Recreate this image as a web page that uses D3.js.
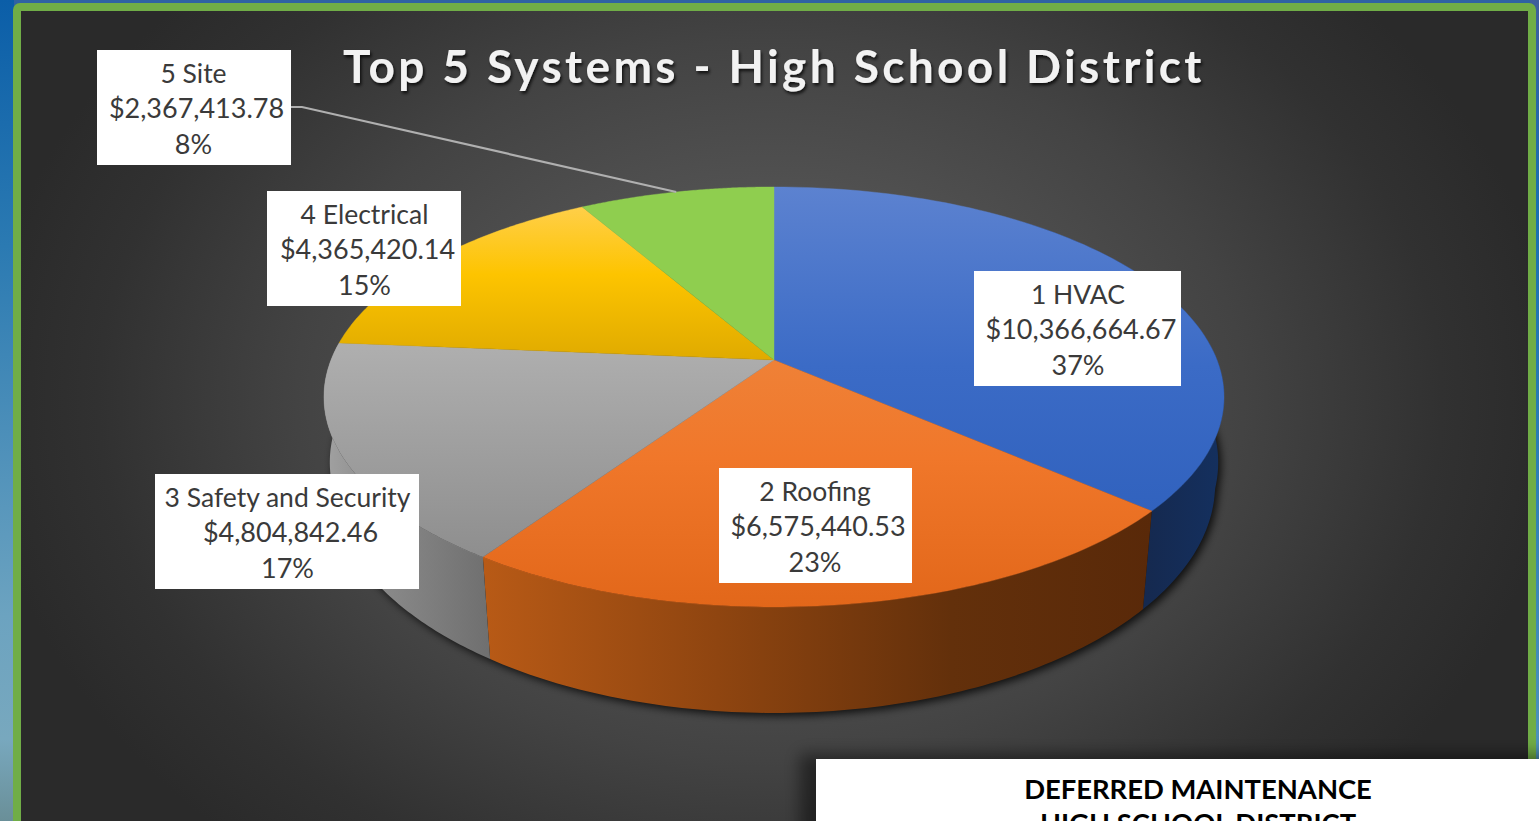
<!DOCTYPE html>
<html><head><meta charset="utf-8">
<script src="https://cdn.jsdelivr.net/npm/d3@7/dist/d3.min.js"></script>
<style>html,body{margin:0;padding:0;background:#fff;overflow:hidden}svg{display:block}</style>
</head><body>
<script>
const title = "Top 5 Systems - High School District";
const systems = ["1 HVAC","2 Roofing","3 Safety and Security","4 Electrical","5 Site"];
const costs = [10366664.67,6575440.53,4804842.46,4365420.14,2367413.78];
const costLabels = ["$10,366,664.67","$6,575,440.53","$4,804,842.46","$4,365,420.14","$2,367,413.78"];
const percents = ["37%","23%","17%","15%","8%"];
const footerLines = ["DEFERRED MAINTENANCE","HIGH SCHOOL DISTRICT"];

const W=1539,H=821;
const svg=d3.select("body").append("svg").attr("width",W).attr("height",H).attr("viewBox",`0 0 ${W} ${H}`);
const defs=svg.append("defs");
function linGrad(id,stops,horizontal,a,b){
  const g=defs.append("linearGradient").attr("id",id).attr("gradientUnits","userSpaceOnUse");
  if(horizontal) g.attr("x1",a).attr("x2",b).attr("y1",0).attr("y2",0);
  else g.attr("x1",0).attr("x2",0).attr("y1",a).attr("y2",b);
  stops.forEach(s=>g.append("stop").attr("offset",s[0]).attr("stop-color",s[1]));
}
linGrad("leftStrip",[[0,"#0b5ea8"],[.3,"#2b7ab2"],[.75,"#6ca3c0"],[.9,"#78a8be"],[1,"#6a8f98"]],false,0,821);
linGrad("rightStrip",[[0,"#3f5f9c"],[.12,"#2a66a8"],[.25,"#1a6fb0"],[.6,"#2f7fb5"],[.92,"#4f93bb"]],false,0,821);
const bg=defs.append("radialGradient").attr("id","bg").attr("gradientUnits","userSpaceOnUse")
  .attr("cx",0).attr("cy",0).attr("r",1).attr("gradientTransform","translate(770 400) scale(790 600)");
[[0,"#5c5c5c"],[.35,"#515151"],[.6,"#434343"],[.85,"#313131"],[1,"#2a2a2a"]].forEach(s=>bg.append("stop").attr("offset",s[0]).attr("stop-color",s[1]));

linGrad("top0",[[0,"#5c82d0"],[.55,"#3b6bc6"],[1,"#3162be"]],false,187,512);
linGrad("top1",[[0,"#ef8137"],[.4,"#f0772a"],[1,"#e2671a"]],false,360,607);
linGrad("top2",[[0,"#afafaf"],[1,"#8e8e8e"]],false,343,558);
linGrad("top3",[[0,"#ffcf4a"],[.45,"#fdc400"],[1,"#e0ab00"]],false,206,358);
linGrad("top4",[[0,"#8fce4f"],[1,"#8fce4f"]],false,187,360);
linGrad("side0",[[0,"#15294f"],[1,"#14305f"]],true,1144,1224);
linGrad("side1",[[0,"#b85a16"],[.35,"#8f4510"],[.7,"#63300b"],[1,"#592909"]],true,483,1153);
linGrad("side2",[[0,"#a2a2a2"],[.3,"#8c8c8c"],[1,"#6f6f6f"]],true,324,490);
["side3","side4"].forEach(id=>linGrad(id,[[0,"#555"],[1,"#555"]],true,0,1));

const blur=(id,sd)=>defs.append("filter").attr("id",id).attr("x","-20%").attr("y","-20%").attr("width","140%").attr("height","140%")
  .append("feGaussianBlur").attr("stdDeviation",sd);
blur("shadow",4.5); blur("boxShadow",8);
const ts=defs.append("filter").attr("id","titleShadow").attr("x","-5%").attr("y","-30%").attr("width","110%").attr("height","170%");
ts.append("feDropShadow").attr("dx",1.5).attr("dy",2.5).attr("stdDeviation",1.8).attr("flood-color","#000").attr("flood-opacity",.75);

// page frame
svg.append("rect").attr("width",14).attr("height",H).attr("fill","url(#leftStrip)");
svg.append("rect").attr("x",14).attr("width",W-14).attr("height",10).attr("fill","#2f62a3");
svg.append("rect").attr("x",1530).attr("width",9).attr("height",H).attr("fill","url(#rightStrip)");
svg.append("rect").attr("x",17).attr("y",7).attr("width",1515).attr("height",H).attr("rx",3)
  .attr("fill","url(#bg)").attr("stroke","#70ad47").attr("stroke-width",8);

// 3D pie: circle coordinates (u,v) pass through a perspective divide, then d3 scales
const persp=0.176;
const xTop=d3.scaleLinear().domain([-1,1]).range([774-443,774+443]);
const yTop=d3.scaleLinear().domain([-1,1]).range([360-203.5,360+203.5]);
const xOffset=d3.scaleLinear().domain([340,400,560]).range([1.01,.98,.975]).clamp(true);
const yBottom=d3.scaleLinear().domain([511.7,607]).range([610,713]);
const angles=d3.pie().sort(null)(costs);
const proj=t=>{const u=Math.sin(t),v=-Math.cos(t),d=1-persp*v;return [xTop(u/d),yTop(v/d)];};
const projB=t=>{const p=proj(t);return [xTop(0)+(p[0]-xTop(0))*xOffset(p[1]),yBottom(p[1])];};
const line=d3.line();
const arcPts=(a,b,f)=>d3.range(0,91).map(i=>f(a+(b-a)*i/90));

// shadow
const full=arcPts(0,2*Math.PI,projB);
svg.append("path").attr("d",line(full)+"Z").attr("fill","#000").attr("fill-opacity",.8)
  .attr("transform","translate(3,3)").attr("filter","url(#shadow)");

// walls
const wallFrom=d=>Math.max(d.startAngle,0.7), wallTo=d=>Math.min(d.endAngle,5.6);
svg.append("g").selectAll("path").data(angles.filter(d=>wallFrom(d)<wallTo(d))).join("path")
  .attr("d",d=>{
    const a=wallFrom(d),b=wallTo(d);
    return line(arcPts(a,b,proj).concat(arcPts(b,a,projB)))+"Z";
  })
  .attr("fill",d=>`url(#side${d.index})`);

// top faces
svg.append("g").selectAll("path").data(angles).join("path")
  .attr("d",d=>line([[xTop(0),yTop(0)]].concat(arcPts(d.startAngle,d.endAngle,proj)))+"Z")
  .attr("fill",d=>`url(#top${d.index})`)
  .attr("stroke",d=>`url(#top${d.index})`).attr("stroke-width",.4);

// title
svg.append("text").text(title).attr("x",343).attr("y",83)
  .attr("font-family","Lato").attr("font-weight",700).attr("font-size",46).attr("letter-spacing",3.38)
  .attr("fill","#f2f2f2").attr("filter","url(#titleShadow)");

// leader line
const labelBoxes=[[974,271,207,115,1078],[719,468,193,115,815],[155,474,264,115,287.5],[267,191,194,115,364.5],[97,50,194,115,193.5]];
const leaderEnd=proj(angles[4].startAngle+(angles[4].endAngle-angles[4].startAngle)*.5);
svg.append("path").attr("d",line([[291,107],[302,107],leaderEnd])).attr("fill","none").attr("stroke","#b0b0b0").attr("stroke-width",2.2);

// labels
const lineDy=[33,67.5,104], lineDx=[0,3,0];
const lg=svg.append("g").selectAll("g").data(systems).join("g");
lg.append("rect").attr("x",(d,i)=>labelBoxes[i][0]).attr("y",(d,i)=>labelBoxes[i][1])
  .attr("width",(d,i)=>labelBoxes[i][2]).attr("height",(d,i)=>labelBoxes[i][3]).attr("fill","#fff");
lg.each(function(d,i){
  const b=labelBoxes[i],g=d3.select(this);
  [d,costLabels[i],percents[i]].forEach((t,j)=>g.append("text").text(t)
    .attr("x",b[4]+lineDx[j]).attr("y",b[1]+lineDy[j]).attr("text-anchor","middle")
    .attr("font-family","Lato").attr("font-size",j===0?26.5:27).attr("fill","#3a3a3a"));
});

// bottom box
svg.append("rect").attr("x",800).attr("y",754).attr("width",760).attr("height",90).attr("fill","#000").attr("fill-opacity",.45).attr("filter","url(#boxShadow)");
svg.append("rect").attr("x",816).attr("y",759).attr("width",W-816).attr("height",H-759).attr("fill","#fff");
svg.append("g").selectAll("text").data(footerLines).join("text").text(d=>d)
  .attr("x",1198).attr("y",(d,i)=>799+i*34).attr("text-anchor","middle")
  .attr("font-family","Lato").attr("font-weight",700).attr("font-size",27.4).attr("fill","#000");
</script>
</body></html>
